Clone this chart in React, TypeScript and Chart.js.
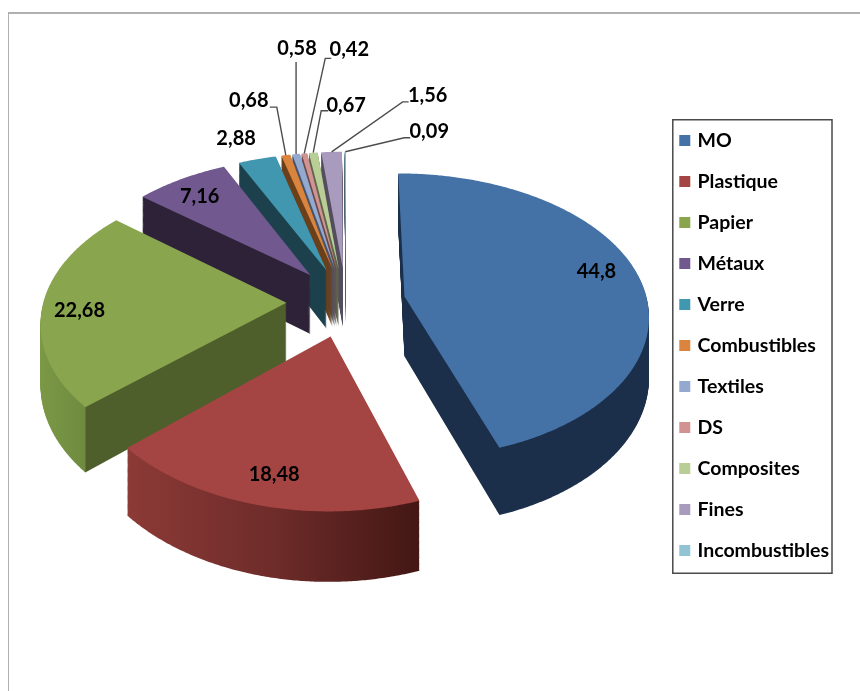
import React, { useEffect, useRef } from "react";
import { Chart, registerables } from "chart.js";

Chart.register(...registerables);

const categories = ["MO", "Plastique", "Papier", "Métaux", "Verre", "Combustibles", "Textiles", "DS", "Composites", "Fines", "Incombustibles"];
const values = [44.8, 18.48, 22.68, 7.16, 2.88, 0.68, 0.58, 0.42, 0.67, 1.56, 0.09];

const topColors = ["#4471a6", "#a54543", "#89a54e", "#71588f", "#4197af", "#db843d", "#93a9cf", "#d19392", "#b9cd96", "#a99bbd", "#92c3d5"];
// side shading: [fraction of slice width, colour]
const sideStops: [number, string][][] = [
  [[0, "#1b2f4a"], [1, "#1b2f4a"]],
  [[0, "#8c3a36"], [0.5, "#6e2c2a"], [1, "#431714"]],
  [[0, "#7b9846"], [0.18, "#6f8b3f"], [0.185, "#4f5f2c"], [1, "#4f5f2c"]],
  [[0, "#2e2238"], [1, "#2e2238"]],
  [[0, "#1c414d"], [1, "#1c414d"]],
  [[0, "#6a3f1a"], [1, "#6a3f1a"]],
  [[0, "#4a5468"], [1, "#4a5468"]],
  [[0, "#684948"], [1, "#684948"]],
  [[0, "#5c664a"], [1, "#5c664a"]],
  [[0, "#544d5e"], [1, "#544d5e"]],
  [[0, "#49616a"], [1, "#49616a"]],
];
// back-to-front painting order
const paintOrder = [10, 9, 8, 7, 6, 5, 4, 3, 2, 0, 1];

// label centre relative to the slice's rim midpoint
const labelOffsets: [number, number][] = [
  [-41, -3], [17, -30], [37, 4], [19, 17], [-21, -21], [-37, -55], [1, -105], [45, -104], [33, -47], [96, -56], [84, -20],
];
// leader: elbow and end relative to the rim midpoint
const leaders: ([number, number, number] | null)[] = [
  null, null, null, null, null,
  [-9, -48, -16], [0, -92, 0], [21, -95, 27], [8, -42, 15], [71, -50, 77], [59, -14, 65],
];

// 3D projection of the pie plane
const EXPLODE = 0.245;
const CX = 346, CY = 302, RX = 243, RY = 141, PERSP_Y = 0.135, PERSP_X = 0.12, DEPTH = 60;
const FONT = "Lato, Carlito, Calibri, sans-serif";

function project(u: number, v: number, depth = 0): [number, number] {
  const sy = 1 / (1 - PERSP_Y * v);
  const sx = 1 / (1 - PERSP_X * v);
  return [CX + RX * u * sx, CY + RY * v * sy + depth * sx];
}

// Minimal context that records the path an ArcElement traces, then paints it through the projection
function makeRecorder(onFill: (pts: [number, number][]) => void) {
  let tx = 0, ty = 0;
  const stack: [number, number][] = [];
  let pts: [number, number][] = [];
  const rec: any = {
    save() { stack.push([tx, ty]); },
    restore() { [tx, ty] = stack.pop() as [number, number]; },
    translate(x: number, y: number) { tx += x; ty += y; },
    beginPath() { pts = []; },
    moveTo(x: number, y: number) { pts.push([x + tx, y + ty]); },
    lineTo(x: number, y: number) { pts.push([x + tx, y + ty]); },
    closePath() {},
    arc(x: number, y: number, r: number, a0: number, a1: number) {
      if (!(r > 0)) {
        pts.push([x + tx, y + ty]);
        return;
      }
      const n = Math.max(2, Math.ceil(Math.abs(a1 - a0) / 0.008));
      for (let i = 0; i <= n; i++) {
        const a = a0 + ((a1 - a0) * i) / n;
        pts.push([x + tx + r * Math.cos(a), y + ty + r * Math.sin(a)]);
      }
    },
    fill() { onFill(pts); },
    stroke() {},
    clip() {},
    setLineDash() {},
  };
  return rec;
}

const piePlugin = {
  id: "pie3d",
  beforeDraw(chart: any) {
    const c = chart.ctx as CanvasRenderingContext2D;
    c.save();
    c.fillStyle = "#ffffff";
    c.fillRect(0, 0, chart.width, chart.height);
    c.fillStyle = "#b0b0b0";
    c.fillRect(8, 12, chart.width - 8, 2);
    c.fillRect(8, 12, 1, chart.height - 12);
    c.restore();
  },
  beforeDatasetsDraw(chart: any) {
    const c = chart.ctx as CanvasRenderingContext2D;
    const arcs = chart.getDatasetMeta(0).data;
    const rim: [number, number][] = [];
    for (const i of paintOrder) {
      const arc = arcs[i];
      const mid = (arc.startAngle + arc.endAngle) / 2;
      const R = arc.outerRadius;
      const world = (p: [number, number]): [number, number] => [
        (p[0] - arc.x) / R + EXPLODE * Math.cos(mid),
        (p[1] - arc.y) / R + EXPLODE * Math.sin(mid),
      ];
      rim[i] = project((1 + EXPLODE) * Math.cos(mid), (1 + EXPLODE) * Math.sin(mid));
      const paint = (pts: [number, number][], depth: number) => {
        c.beginPath();
        pts.forEach((p, k) => {
          const w = world(p);
          const [x, y] = project(w[0], w[1], depth);
          if (k === 0) c.moveTo(x, y);
          else c.lineTo(x, y);
        });
        c.closePath();
        c.fill();
      };
      // extent for side shading
      let minX = Infinity, maxX = -Infinity;
      arc.draw(makeRecorder((pts) => {
        pts.forEach((p) => {
          const w = world(p);
          const x = project(w[0], w[1])[0];
          minX = Math.min(minX, x);
          maxX = Math.max(maxX, x);
        });
      }));
      const g = c.createLinearGradient(minX, 0, Math.max(maxX, minX + 1), 0);
      sideStops[i].forEach(([f, col]) => g.addColorStop(f, col));
      c.save();
      c.fillStyle = g;
      for (let d = DEPTH; d >= 1; d -= 1) {
        arc.draw(makeRecorder((pts) => paint(pts, d)));
      }
      c.fillStyle = topColors[i];
      arc.draw(makeRecorder((pts) => paint(pts, 0)));
      c.restore();
    }
    // leaders and value labels
    c.save();
    c.strokeStyle = "#4d4d4d";
    c.lineWidth = 1.4;
    c.fillStyle = "#000000";
    c.font = `bold 20px ${FONT}`;
    c.textAlign = "center";
    c.textBaseline = "middle";
    values.forEach((val, i) => {
      const [rx, ry] = rim[i];
      const l = leaders[i];
      if (l) {
        c.beginPath();
        c.moveTo(rx, ry);
        c.lineTo(rx + l[0], ry + l[1]);
        c.lineTo(rx + l[2], ry + l[1]);
        c.stroke();
      }
      c.fillText(String(val).replace(".", ","), rx + labelOffsets[i][0], ry + labelOffsets[i][1]);
    });
    c.restore();
    return false;
  },
  afterDraw(chart: any) {
    const boxes = chart.legend?.legendHitBoxes;
    if (!boxes || !boxes.length) return;
    const c = chart.ctx as CanvasRenderingContext2D;
    const first = boxes[0];
    const last = boxes[boxes.length - 1];
    const right = Math.max(...boxes.map((b: any) => b.left + b.width));
    const left = first.left - 9;
    const top = first.top - 11;
    c.save();
    c.strokeStyle = "#4a4a4a";
    c.lineWidth = 1.5;
    c.strokeRect(left, top, right + 3 - left, last.top + last.height + 13 - top);
    c.restore();
  },
};

export default function App() {
  const ref = useRef<HTMLCanvasElement>(null);
  useEffect(() => {
    const chart = new Chart(ref.current as HTMLCanvasElement, {
      type: "pie",
      data: {
        labels: categories,
        datasets: [{ data: values, backgroundColor: topColors, borderWidth: 0, clip: false } as any],
      },
      options: {
        responsive: false,
        animation: false,
        devicePixelRatio: 1,
        layout: { padding: { right: 21 } },
        plugins: {
          tooltip: { enabled: false },
          legend: {
            display: true,
            position: "right",
            labels: {
              font: { family: FONT, size: 19.5, weight: "bold" },
              color: "#000000",
              boxWidth: 6,
              boxHeight: 6,
              padding: 21.5,
              generateLabels: () =>
                categories.map((text, i) => ({
                  text,
                  fillStyle: topColors[i],
                  strokeStyle: topColors[i],
                  lineWidth: 5,
                  hidden: false,
                  index: i,
                })),
            },
          },
        },
      } as any,
      plugins: [piePlugin as any],
    });
    return () => chart.destroy();
  }, []);
  return (
    <div style={{ position: "absolute", left: 0, top: 0 }}>
      <canvas ref={ref} width={860} height={691} style={{ display: "block" }} />
    </div>
  );
}
